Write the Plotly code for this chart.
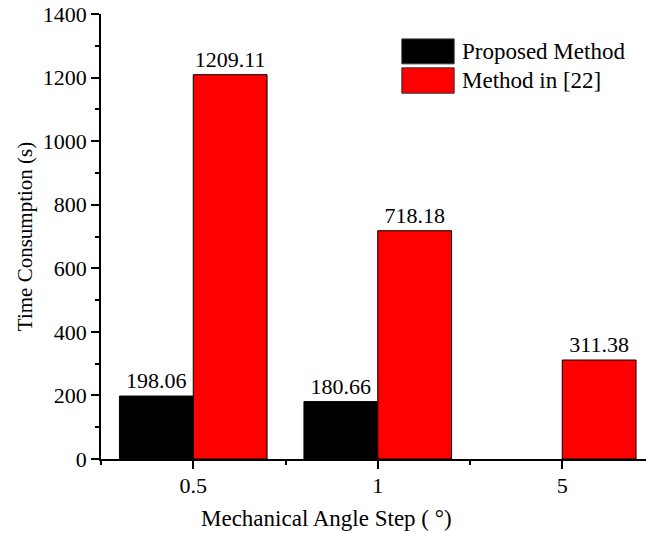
import plotly.graph_objects as go

# Data
categories = ["0.5", "1", "5"]
series_names = ["Proposed Method", "Method in [22]"]
proposed = [198.06, 180.66, None]
reference_method = [1209.11, 718.18, 311.38]
y_ticks = [0, 200, 400, 600, 800, 1000, 1200, 1400]

colors = ["#000000", "#FF0000"]
FONT = "Liberation Serif, Times New Roman, serif"
positions = list(range(len(categories)))

fig = go.Figure()
for name, vals, col in zip(series_names, [proposed, reference_method], colors):
    fig.add_trace(go.Bar(
        x=positions, y=vals, name=name,
        marker=dict(color=col, line=dict(color="#000000", width=1)),
        text=[None if v is None else f"{v:.2f}" for v in vals],
        textposition="outside", constraintext="none", cliponaxis=False,
        textfont=dict(family=FONT, size=22, color="#000000"),
        showlegend=False,
    ))

# Legend drawn as boxes + labels
legend_x0, legend_x1, text_x = 0.552, 0.648, 0.659
legend_rows = [(0.944, 0.888), (0.879, 0.822)]
for (top, bot), name, col in zip(legend_rows, series_names, colors):
    fig.add_shape(type="rect", xref="paper", yref="paper",
                  x0=legend_x0, x1=legend_x1, y0=bot, y1=top,
                  fillcolor=col, line=dict(color="#333333", width=1))
    fig.add_annotation(xref="paper", yref="paper", x=text_x, y=(top + bot) / 2,
                       text=name, showarrow=False, xanchor="left", yanchor="middle",
                       font=dict(family=FONT, size=23, color="#000000"))

# X axis title
fig.add_annotation(xref="paper", yref="paper", x=0.414, y=-0.133,
                   text="Mechanical Angle Step ( °)", showarrow=False,
                   xanchor="center", yanchor="middle",
                   font=dict(family=FONT, size=23, color="#000000"))

fig.update_layout(
    width=646, height=533,
    margin=dict(l=101, r=0, t=14, b=74),
    paper_bgcolor="white", plot_bgcolor="white",
    barmode="group", bargap=0.2, bargroupgap=0,
    font=dict(family=FONT, size=22, color="#000000"),
    xaxis=dict(
        range=[-0.5, 2.454], tickmode="array", tickvals=positions, ticktext=categories,
        showline=True, linecolor="#000000", linewidth=1.5,
        ticks="outside", ticklen=8, tickwidth=1.5, tickcolor="#000000",
        minor=dict(tick0=0, dtick=0.5, ticks="outside", ticklen=4, tickwidth=1.5, tickcolor="#000000"),
        showgrid=False, zeroline=False, ticklabelstandoff=-2,
        tickfont=dict(family=FONT, size=22),
    ),
    yaxis=dict(
        range=[0, 1400], tickmode="array", tickvals=y_ticks,
        showline=True, linecolor="#000000", linewidth=1.5,
        ticks="outside", ticklen=8, tickwidth=1.5, tickcolor="#000000",
        minor=dict(dtick=100, ticks="outside", ticklen=4, tickwidth=1.5, tickcolor="#000000"),
        showgrid=False, zeroline=False,
        title=dict(text="Time Consumption (s)", font=dict(family=FONT, size=21), standoff=4),
        tickfont=dict(family=FONT, size=22),
    ),
)

fig.write_html("out.html")
